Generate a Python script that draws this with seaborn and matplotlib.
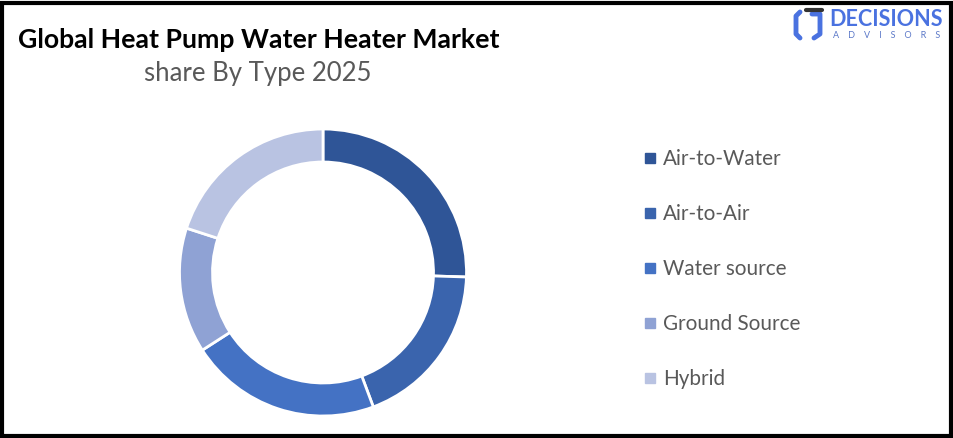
import matplotlib
matplotlib.use("Agg")
import matplotlib.pyplot as plt
from matplotlib.patches import Rectangle
from matplotlib.lines import Line2D
import seaborn as sns

# market share by type
types = ["Air-to-Water", "Air-to-Air", "Water source", "Ground Source", "Hybrid"]
shares = [25.5, 18.8, 21.6, 14.1, 20.0]
colors = ["#2F5597", "#3A64AD", "#4472C4", "#8FA2D4", "#B9C3E2"]

sns.set_theme(style="white")
plt.rcParams["font.family"] = ["Lato", "DejaVu Sans"]

W, H = 954, 438
fig = plt.figure(figsize=(W / 100, H / 100), dpi=100)
fig.patch.set_facecolor("white")

# donut, centred at (323, 272) px, outer radius ~143 px
cx, cy, r = 323, 272.5, 143.5
ax = fig.add_axes([(cx - r) / W, (H - cy - r) / H, 2 * r / W, 2 * r / H])
ax.pie(shares, colors=colors, startangle=90, counterclock=False,
       wedgeprops=dict(width=0.23, edgecolor="white", linewidth=2))
ax.set_xlim(-1, 1)
ax.set_ylim(-1, 1)
ax.set_aspect("equal")

# legend
handles = [Line2D([0], [0], marker="s", linestyle="none", markersize=7.5,
                  markerfacecolor=c, markeredgecolor=c) for c in colors]
fig.legend(handles, types, loc="upper left", bbox_to_anchor=(632 / W, 1 - 139 / H),
           frameon=False, fontsize=14.9, labelcolor="#595959", labelspacing=1.69,
           handlelength=0.7, handletextpad=0.3, borderpad=0)

# titles
fig.text(18 / W, 1 - 40 / H, "Global Heat Pump Water Heater Market", fontsize=19.2,
         fontweight="bold", color="black", va="center", ha="left")
fig.text(258 / W, 1 - 74 / H, "share By Type 2025", fontsize=18.5,
         color="#595959", va="center", ha="center")

# logo
fig.text(829 / W, 1 - 20 / H, "DECISIONS", fontsize=15.5, fontweight="bold",
         color="#4A72E0", va="center", ha="left")
fig.text(833 / W, 1 - 35 / H, "A    D    V    I    S    O    R    S", fontsize=6.5,
         color="#5B78C8", va="center", ha="left")
fig.add_artist(Line2D([800 / W, 796 / W, 796 / W, 800 / W],
                      [1 - 12 / H, 1 - 16 / H, 1 - 34 / H, 1 - 38 / H],
                      color="#4A72E0", linewidth=3.5, transform=fig.transFigure))
fig.add_artist(Line2D([812 / W, 820 / W, 820 / W, 814 / W],
                      [1 - 14 / H, 1 - 14 / H, 1 - 34 / H, 1 - 38 / H],
                      color="#4A72E0", linewidth=3.5, transform=fig.transFigure))
fig.add_artist(Line2D([806 / W, 822 / W], [1 - 10 / H, 1 - 10 / H],
                      color="#333333", linewidth=3, transform=fig.transFigure))

# black frame round the whole picture
fig.add_artist(Rectangle((2 / W, 2.5 / H), (W - 5) / W, (H - 5) / H, fill=False,
                         edgecolor="black", linewidth=3, transform=fig.transFigure))

fig.savefig("out.png", dpi=100, facecolor="white")
